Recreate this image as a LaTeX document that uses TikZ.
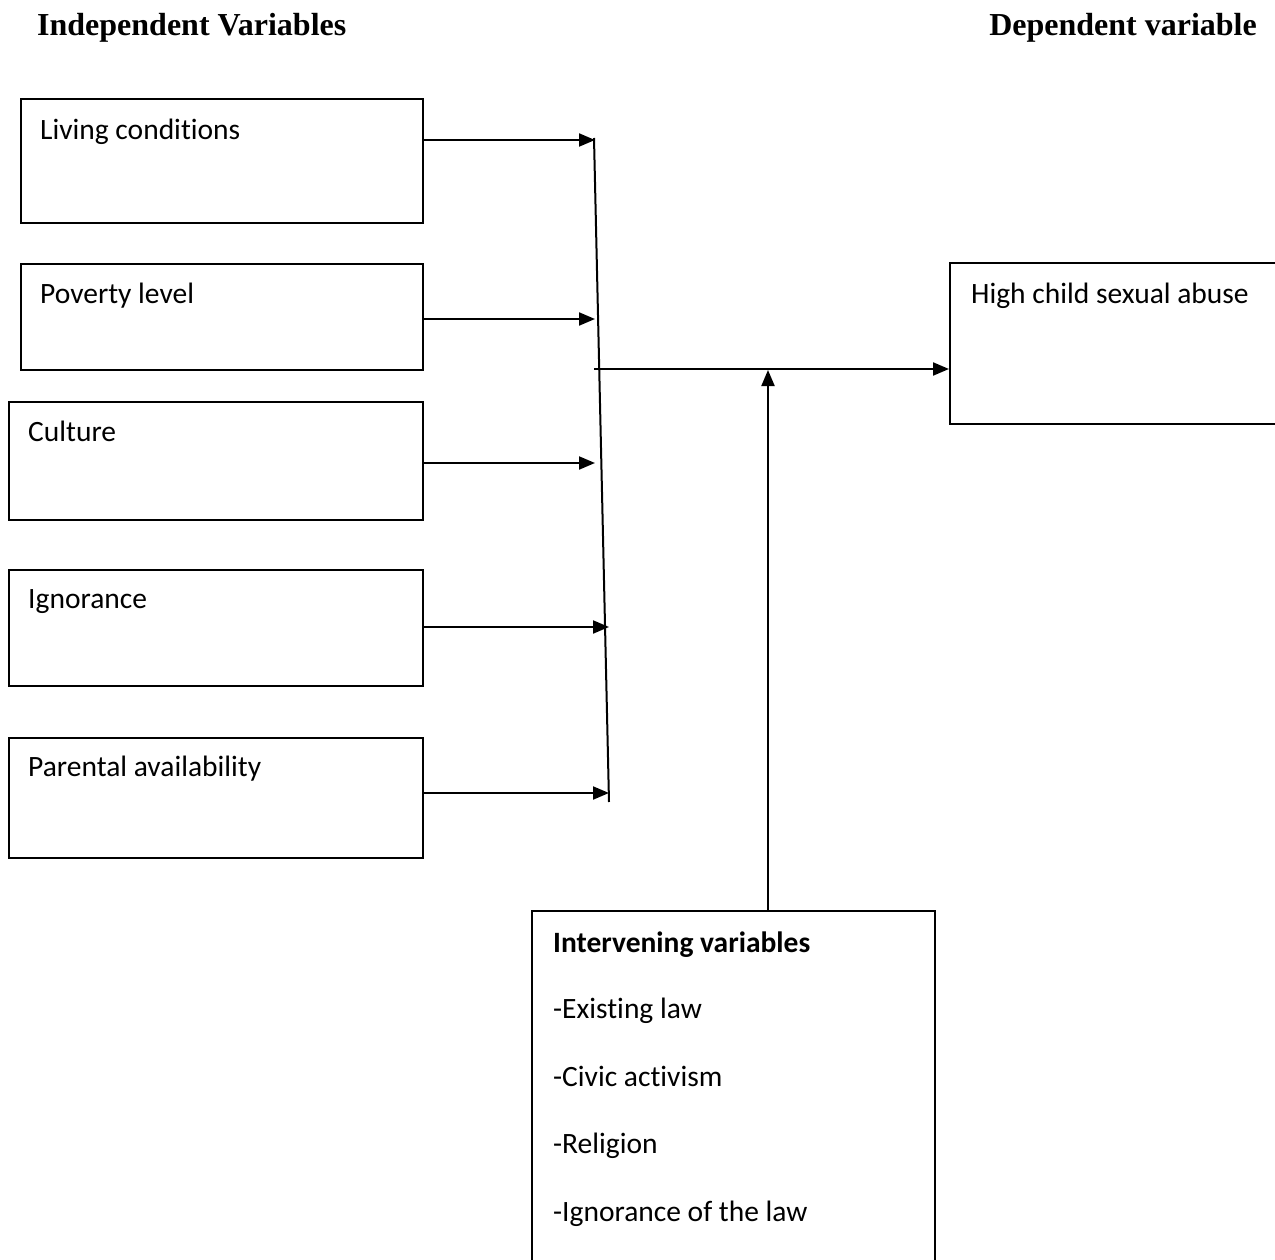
\documentclass[tikz,border=0pt]{standalone}
\usepackage{fontspec}
\setmainfont{Carlito}[Ligatures=NoCommon]
\newfontfamily\titlefont{Liberation Serif}
\usetikzlibrary{arrows.meta}
\begin{document}
\begin{tikzpicture}[x=1pt,y=-1pt,
  box/.style={draw,line width=2pt,rectangle,anchor=north west,inner sep=0pt},
  lbl/.style={anchor=base west,inner sep=0pt,font=\fontsize{29.5}{34}\selectfont},
  ttl/.style={inner sep=0pt,font=\titlefont\bfseries\fontsize{32}{36}\selectfont},
  ln/.style={line width=2pt},
  arr/.style={line width=2pt,-{Triangle[length=16pt,width=13pt]}}]
\useasboundingbox (0,0) rectangle (1275,1260);
\clip (0,0) rectangle (1275,1260);
% titles
\node[ttl,anchor=base west] (tind) at (37,36) {Independent Variables};
\node[ttl,anchor=base east] (tdep) at (1257,36) {Dependent variable};
% left boxes
\node[box,minimum width=402pt,minimum height=124pt] (lc) at (20,98) {};
\node[lbl] (lct) at (40,140) {Living conditions};
\node[box,minimum width=402pt,minimum height=106pt] (pl) at (20,263) {};
\node[lbl] (plt) at (40,303) {Poverty level};
\node[box,minimum width=414pt,minimum height=118pt] (cu) at (8,401) {};
\node[lbl] (cut) at (28,441) {Culture};
\node[box,minimum width=414pt,minimum height=116pt] (ig) at (8,569) {};
\node[lbl] (igt) at (28,608) {Ignorance};
\node[box,minimum width=414pt,minimum height=120pt] (pa) at (8,737) {};
\node[lbl] (pat) at (28,776) {Parental availability};
% dependent box
\node[box,minimum width=340pt,minimum height=161pt] (hc) at (949,262) {};
\node[lbl] (hct) at (971,303) {High child sexual abuse};
% intervening box
\node[box,minimum width=403pt,minimum height=360pt] (iv) at (531,910) {};
\node[lbl,font=\bfseries\fontsize{29.5}{34}\selectfont] (iv0) at (553,952) {Intervening variables};
\node[lbl] (iv1) at (553,1018) {-Existing law};
\node[lbl] (iv2) at (553,1086) {-Civic activism};
\node[lbl] (iv3) at (553,1153) {-Religion};
\node[lbl] (iv4) at (553,1221) {-Ignorance of the law};
% collector line
\coordinate (sT) at (594,138);
\coordinate (sB) at (609,802);
\draw[ln] (sT) -- (sB);
\coordinate (a1) at (595,140);
\coordinate (a2) at (595,319);
\coordinate (a3) at (595,463);
\coordinate (a4) at (609,627);
\coordinate (a5) at (609,793);
\draw[arr] (lc.north east |- a1) -- (a1);
\draw[arr] (pl.north east |- a2) -- (a2);
\draw[arr] (cu.north east |- a3) -- (a3);
\draw[arr] (ig.north east |- a4) -- (a4);
\draw[arr] (pa.north east |- a5) -- (a5);
% main arrow
\coordinate (hS) at (594,369);
\draw[arr] (hS) -- (hc.north west |- hS);
\coordinate (vT) at (768,370);
\draw[arr] (iv.north west -| vT) -- (vT);
\end{tikzpicture}
\end{document}
